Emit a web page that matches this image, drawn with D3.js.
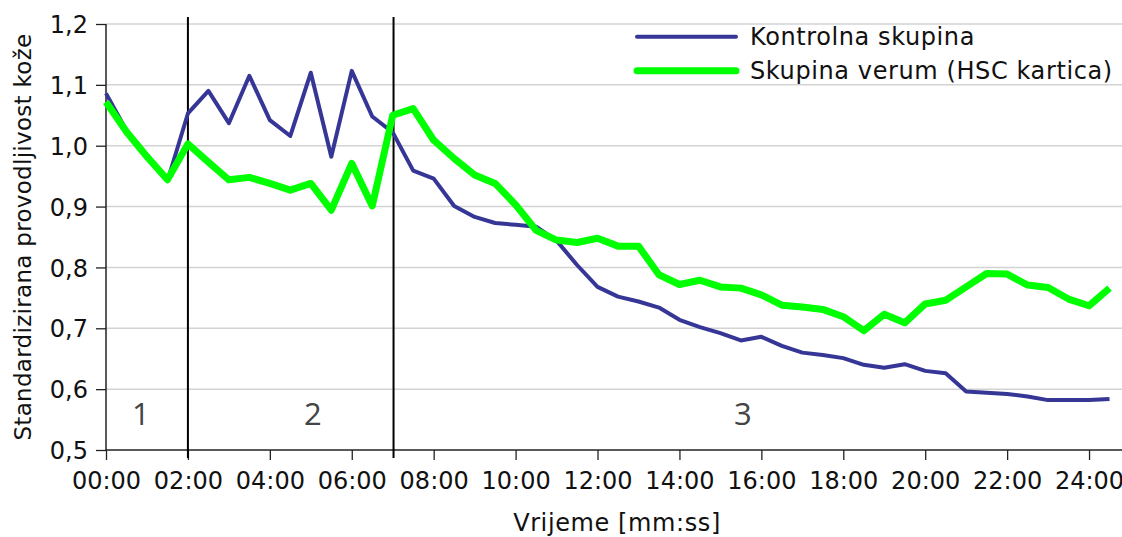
<!DOCTYPE html>
<html>
<head>
<meta charset="utf-8">
<script src="https://cdn.jsdelivr.net/npm/d3@7"></script>
<style>
  body { margin: 0; background: #fff; }
  svg text { font-family: "DejaVu Sans", sans-serif; }
</style>
</head>
<body>
<div id="chart"></div>
<script>
// time in minutes, one point every 30 s
var times = d3.range(0, 24.5001, 0.5);

var kontrolna = [1.086, 1.025, 0.985, 0.942, 1.053, 1.090, 1.037, 1.115, 1.042, 1.016,
                 1.120, 0.982, 1.123, 1.048, 1.022, 0.959, 0.946, 0.901, 0.883, 0.873,
                 0.870, 0.867, 0.844, 0.804, 0.768, 0.752, 0.744, 0.734, 0.714, 0.702,
                 0.692, 0.680, 0.686, 0.671, 0.660, 0.656, 0.651, 0.640, 0.635, 0.641,
                 0.630, 0.626, 0.596, 0.594, 0.592, 0.588, 0.582, 0.582, 0.582, 0.584];

var verum = [1.072, 1.023, 0.982, 0.944, 1.003, 0.973, 0.944, 0.948, 0.938, 0.927,
             0.938, 0.894, 0.971, 0.901, 1.050, 1.061, 1.009, 0.979, 0.952, 0.938,
             0.903, 0.861, 0.845, 0.841, 0.848, 0.835, 0.835, 0.788, 0.772, 0.779,
             0.768, 0.766, 0.755, 0.738, 0.735, 0.731, 0.719, 0.696, 0.723, 0.709,
             0.740, 0.746, 0.768, 0.790, 0.789, 0.771, 0.767, 0.748, 0.737, 0.766];

var seriesNames = ["Kontrolna skupina", "Skupina verum (HSC kartica)"];
var xTicks = d3.range(0, 24.001, 2);
var yTicks = [0.5, 0.6, 0.7, 0.8, 0.9, 1.0, 1.1, 1.2];
var phaseBoundaries = [2, 7.02];
var phaseLabels = ["1", "2", "3"];
var phaseLabelTimes = [0.85, 5.05, 15.55];

var W = 1122, H = 537;
var mLeft = 106, mRight = 1122, mTop = 24, mBottom = 450;

var svg = d3.select("#chart").append("svg")
    .attr("width", W)
    .attr("height", H);

//scales: 2 min = ~82 px
var x = d3.scaleLinear().domain([0, (mRight - mLeft) / 40.96]).range([mLeft, mRight]);
var y = d3.scaleLinear().domain([0.5, 1.2]).range([mBottom, mTop]);

//gridlines
svg.append("g")
    .selectAll("line")
    .data(yTicks.slice(1))
    .enter()
    .append("line")
    .attr("x1", mLeft).attr("x2", mRight)
    .attr("y1", function (d) { return y(d); })
    .attr("y2", function (d) { return y(d); })
    .attr("stroke", "#d3d3d3")
    .attr("stroke-width", 1.5);

//y axis
var yAxis = svg.append("g")
    .attr("transform", "translate(" + mLeft + ",0)")
    .call(d3.axisLeft(y).tickValues(yTicks).tickSize(10).tickPadding(8)
        .tickFormat(function (d) { return d3.format(".1f")(d).replace(".", ","); }));
yAxis.select(".domain").attr("stroke", "#222").attr("stroke-width", 1.5).attr("d", "M0," + mTop + "V" + mBottom);
yAxis.selectAll(".tick line").attr("stroke", "#222").attr("stroke-width", 1.3);
yAxis.selectAll("text").attr("font-size", "24px").attr("fill", "#111")
    .attr("font-family", "DejaVu Sans").attr("dy", "0.36em");

//x axis
var xAxis = svg.append("g")
    .attr("transform", "translate(0," + mBottom + ")")
    .call(d3.axisBottom(x).tickValues(xTicks).tickSize(10).tickPadding(12)
        .tickFormat(function (d) {
            var m = Math.floor(d), s = Math.round((d - m) * 60);
            return d3.format("02d")(m) + ":" + d3.format("02d")(s);
        }));
xAxis.select(".domain").attr("stroke", "#222").attr("stroke-width", 1.5).attr("d", "M" + mLeft + ",0H" + mRight);
xAxis.selectAll(".tick line").attr("stroke", "#222").attr("stroke-width", 1.3);
xAxis.selectAll("text").attr("font-size", "24px").attr("fill", "#111")
    .attr("font-family", "DejaVu Sans");

//axis titles
svg.append("text")
    .attr("transform", "translate(31," + (mTop + mBottom) / 2 + ") rotate(-90)")
    .attr("text-anchor", "middle")
    .attr("font-size", "23px")
    .attr("letter-spacing", "0.3px")
    .attr("fill", "#111")
    .text("Standardizirana provodljivost kože");

svg.append("text")
    .attr("x", 617)
    .attr("y", 531)
    .attr("text-anchor", "middle")
    .attr("font-size", "24px")
    .attr("letter-spacing", "0.6px")
    .attr("fill", "#111")
    .text("Vrijeme [mm:ss]");

//phase separators
svg.append("g")
    .selectAll("line")
    .data(phaseBoundaries)
    .enter()
    .append("line")
    .attr("x1", function (d) { return x(d); })
    .attr("x2", function (d) { return x(d); })
    .attr("y1", 17)
    .attr("y2", 458)
    .attr("stroke", "#000")
    .attr("stroke-width", 2);

svg.append("g")
    .selectAll("text")
    .data(phaseLabels)
    .enter()
    .append("text")
    .attr("x", function (d, i) { return x(phaseLabelTimes[i]); })
    .attr("y", y(0.541))
    .attr("text-anchor", "middle")
    .style("font-family", "'Open Sans', sans-serif")
    .attr("font-size", "31px")
    .attr("fill", "#444")
    .text(function (d) { return d; });

//lines
var line = d3.line()
    .x(function (d, i) { return x(times[i]); })
    .y(function (d) { return y(d); });

svg.append("path")
    .datum(kontrolna)
    .attr("d", line)
    .attr("fill", "none")
    .attr("stroke", "#363696")
    .attr("stroke-width", 4)
    .attr("stroke-linejoin", "round");

svg.append("path")
    .datum(verum)
    .attr("d", line)
    .attr("fill", "none")
    .attr("stroke", "#00ff00")
    .attr("stroke-width", 7)
    .attr("stroke-linejoin", "round");

//legend
var legendColors = ["#363696", "#00ff00"];
var legendWidths = [4, 7];
var legend = svg.append("g")
    .selectAll("g")
    .data(seriesNames)
    .enter()
    .append("g")
    .attr("transform", function (d, i) { return "translate(0," + (36.7 + i * 34) + ")"; });

legend.append("line")
    .attr("x1", 637).attr("x2", 736)
    .attr("y1", 0).attr("y2", 0)
    .attr("stroke", function (d, i) { return legendColors[i]; })
    .attr("stroke-width", function (d, i) { return legendWidths[i]; })
    .attr("stroke-linecap", "round");

legend.append("text")
    .attr("x", 750)
    .attr("y", 0)
    .attr("dy", "0.33em")
    .attr("font-size", "24px")
    .attr("letter-spacing", "0.6px")
    .attr("fill", "#111")
    .text(function (d) { return d; });
</script>
</body>
</html>
